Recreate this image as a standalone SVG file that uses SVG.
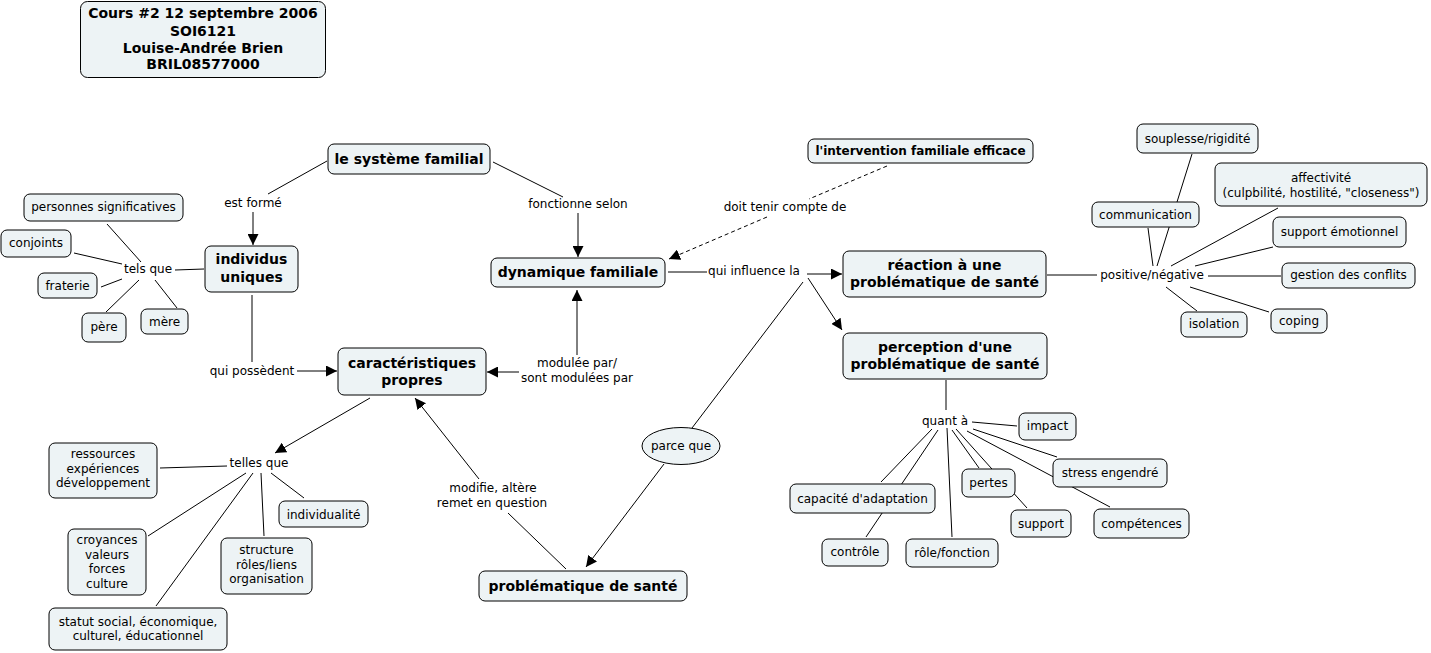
<svg xmlns="http://www.w3.org/2000/svg" width="1431" height="653" viewBox="0 0 1431 653">
<style>
.n rect, .n ellipse { fill: #edf3f5; stroke: #000; stroke-width: 1; }
text { font-family: "DejaVu Sans", Verdana, sans-serif; font-size: 12px; fill: #000; text-anchor: middle; }
.b text { font-weight: bold; font-size: 14px; }
.bs text { font-weight: bold; font-size: 12px; }
.c path { fill: none; stroke: #000; stroke-width: 1; }
.c path.a { marker-end: url(#arr); }
.c path.d { stroke-dasharray: 4 3; }
</style>
<defs>
<marker id="arr" viewBox="0 0 10 10" refX="10" refY="5" markerWidth="11" markerHeight="11" markerUnits="userSpaceOnUse" orient="auto">
<path d="M0,0 L10,5 L0,10 z" fill="#000"/>
</marker>
</defs>
<rect width="1431" height="653" fill="#fff"/>
<g class="c" id="connectors">
<path d="M327,161 L268,194"/>
<path class="a" d="M253,212 L253,245"/>
<path d="M493,162 L563,197"/>
<path class="a" d="M578,213 L578,257"/>
<path d="M175,270 L204,269"/>
<path d="M141,262 L107,224"/>
<path d="M122,264 L74,253"/>
<path d="M122,279 L101,287"/>
<path d="M139,280 L106,312"/>
<path d="M155,280 L177,308"/>
<path d="M252,295 L252,362"/>
<path class="a" d="M297,371 L337,371"/>
<path class="a" d="M370,398 L275,453"/>
<path d="M227,466 L160,468"/>
<path d="M271,473 L304,498"/>
<path d="M261,473 L264,536"/>
<path d="M246,473 L148,536"/>
<path d="M253,473 L156,606"/>
<path d="M668,272 L707,272"/>
<path class="a" d="M807,274 L842,274"/>
<path class="a" d="M808,278 L842,330"/>
<path d="M803,282 L692,428"/>
<path class="a" d="M664,464 L586,567"/>
<path d="M566,569 L508,513"/>
<path class="a" d="M479,479 L415,398"/>
<path class="a" d="M577,355 L577,290"/>
<path class="a" d="M519,372 L487,372"/>
<path class="d" d="M887,166 L809,199"/>
<path class="d a" d="M767,217 L669,259"/>
<path d="M1047,275 L1097,275"/>
<path d="M1157,266 L1192,154"/>
<path d="M1153,266 L1148,228"/>
<path d="M1171,266 L1278,208"/>
<path d="M1195,266 L1273,247"/>
<path d="M1208,276 L1281,276"/>
<path d="M1190,287 L1269,312"/>
<path d="M1166,287 L1197,311"/>
<path d="M946,380 L946,410"/>
<path d="M972,422 L1017,426"/>
<path d="M973,429 L1057,457"/>
<path d="M967,431 L1110,507"/>
<path d="M952,430 L979,468"/>
<path d="M956,429 L1027,508"/>
<path d="M947,428 L952,537"/>
<path d="M932,429 L881,482"/>
<path d="M938,430 L866,537"/>
</g>
<g id="labels">
<text x="253" y="207">est formé</text>
<text x="578" y="208">fonctionne selon</text>
<text x="148" y="273">tels que</text>
<text x="252" y="375">qui possèdent</text>
<text x="577" y="367">modulée par/</text>
<text x="577" y="382">sont modulées par</text>
<text x="785" y="211">doit tenir compte de</text>
<text x="754" y="275">qui influence la</text>
<text x="1152" y="279">positive/négative</text>
<text x="259" y="467">telles que</text>
<text x="493" y="492">modifie, altère</text>
<text x="492" y="507">remet en question</text>
<text x="945" y="425">quant à</text>
</g>
<g id="title" class="n b"><rect x="80.5" y="1.5" width="245" height="76" rx="7"/>
<text x="203" y="18">Cours #2 12 septembre 2006</text><text x="203" y="36">SOI6121</text><text x="203" y="53">Louise-Andrée Brien</text><text x="203" y="69">BRIL08577000</text></g>
<g id="systeme" class="n b"><rect x="328" y="144" width="162" height="30" rx="6"/><text x="409" y="164">le système familial</text></g>
<g id="individus" class="n b"><rect x="205" y="246" width="93" height="46" rx="6"/><text x="251.5" y="264">individus</text><text x="251.5" y="282">uniques</text></g>
<g id="caracteristiques" class="n b"><rect x="338" y="348" width="148" height="47" rx="6"/><text x="412" y="368">caractéristiques</text><text x="412" y="385">propres</text></g>
<g id="dynamique" class="n b"><rect x="491" y="258" width="174" height="29" rx="6"/><text x="578" y="277">dynamique familiale</text></g>
<g id="intervention" class="n bs"><rect x="808" y="139" width="225" height="24" rx="6"/><text x="920.5" y="155">l'intervention familiale efficace</text></g>
<g id="reaction" class="n b"><rect x="843" y="251" width="203" height="46" rx="6"/><text x="944.5" y="270">réaction à une</text><text x="944.5" y="287">problématique de santé</text></g>
<g id="perception" class="n b"><rect x="843" y="333" width="204" height="46" rx="6"/><text x="945" y="352">perception d'une</text><text x="945" y="369">problématique de santé</text></g>
<g id="probleme" class="n b"><rect x="479" y="571" width="208" height="30" rx="6"/><text x="583" y="591">problématique de santé</text></g>
<g id="personnes" class="n"><rect x="24" y="194" width="159" height="27" rx="6"/><text x="103.5" y="211">personnes significatives</text></g>
<g id="conjoints" class="n"><rect x="1" y="230" width="70" height="27" rx="6"/><text x="36" y="247">conjoints</text></g>
<g id="fraterie" class="n"><rect x="38" y="273" width="59" height="25" rx="6"/><text x="67.5" y="290">fraterie</text></g>
<g id="pere" class="n"><rect x="82" y="313" width="44" height="29" rx="6"/><text x="104" y="331">père</text></g>
<g id="mere" class="n"><rect x="141" y="309" width="47" height="25" rx="6"/><text x="164.5" y="326">mère</text></g>
<g id="ressources" class="n"><rect x="49" y="443" width="108" height="55" rx="6"/><text x="103" y="458">ressources</text><text x="103" y="472.5">expériences</text><text x="103" y="487">développement</text></g>
<g id="individualite" class="n"><rect x="279" y="501" width="89" height="26" rx="6"/><text x="323.5" y="519">individualité</text></g>
<g id="croyances" class="n"><rect x="68" y="529" width="78" height="66" rx="6"/><text x="107" y="544">croyances</text><text x="107" y="558.5">valeurs</text><text x="107" y="573">forces</text><text x="107" y="587.5">culture</text></g>
<g id="structure" class="n"><rect x="221" y="538" width="91" height="56" rx="6"/><text x="266.5" y="554">structure</text><text x="266.5" y="569">rôles/liens</text><text x="266.5" y="583">organisation</text></g>
<g id="statut" class="n"><rect x="49" y="608" width="178" height="42" rx="6"/><text x="138" y="626">statut social, économique,</text><text x="138" y="640">culturel, éducationnel</text></g>
<g id="souplesse" class="n"><rect x="1137" y="124" width="121" height="29" rx="6"/><text x="1197.5" y="143">souplesse/rigidité</text></g>
<g id="affectivite" class="n"><rect x="1215" y="163" width="212" height="43" rx="6"/><text x="1321" y="182">affectivité</text><text x="1321" y="197">(culpbilité, hostilité, "closeness")</text></g>
<g id="communication" class="n"><rect x="1092" y="202" width="107" height="25" rx="6"/><text x="1145.5" y="219">communication</text></g>
<g id="support-emotionnel" class="n"><rect x="1273" y="217" width="133" height="30" rx="6"/><text x="1339.5" y="236">support émotionnel</text></g>
<g id="gestion" class="n"><rect x="1282" y="263" width="133" height="25" rx="6"/><text x="1348.5" y="279">gestion des conflits</text></g>
<g id="coping" class="n"><rect x="1271" y="309" width="56" height="24" rx="6"/><text x="1299" y="325">coping</text></g>
<g id="isolation" class="n"><rect x="1181" y="312" width="66" height="25" rx="6"/><text x="1214" y="328">isolation</text></g>
<g id="impact" class="n"><rect x="1019" y="413" width="57" height="27" rx="6"/><text x="1047.5" y="430">impact</text></g>
<g id="stress" class="n"><rect x="1053" y="459" width="114" height="28" rx="6"/><text x="1110" y="477">stress engendré</text></g>
<g id="pertes" class="n"><rect x="962" y="469" width="53" height="28" rx="6"/><text x="988.5" y="487">pertes</text></g>
<g id="capacite" class="n"><rect x="790" y="484" width="145" height="29" rx="6"/><text x="862.5" y="503">capacité d'adaptation</text></g>
<g id="support" class="n"><rect x="1011" y="510" width="60" height="27" rx="6"/><text x="1041" y="528">support</text></g>
<g id="competences" class="n"><rect x="1094" y="509" width="95" height="29" rx="6"/><text x="1141.5" y="528">compétences</text></g>
<g id="controle" class="n"><rect x="822" y="539" width="66" height="27" rx="6"/><text x="855" y="556">contrôle</text></g>
<g id="role" class="n"><rect x="906" y="539" width="92" height="28" rx="6"/><text x="952" y="557">rôle/fonction</text></g>
<g id="parceque" class="n"><ellipse cx="681" cy="446" rx="39" ry="18.5"/><text x="681" y="450">parce que</text></g>
</svg>
